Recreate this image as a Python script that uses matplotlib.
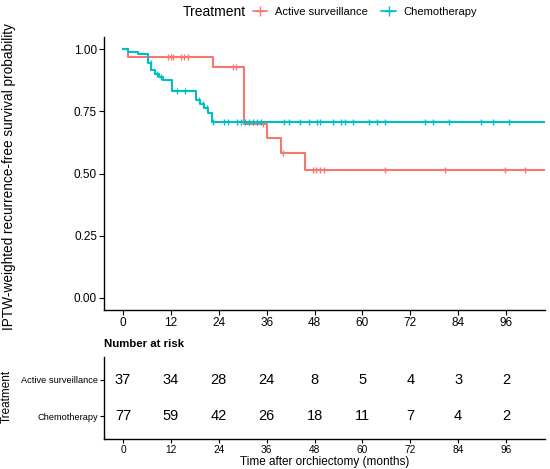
import matplotlib.pyplot as plt
from matplotlib.lines import Line2D
import numpy as np

plt.rcParams['font.family'] = ['Liberation Sans', 'DejaVu Sans']

RED = '#F8766D'
TEAL = '#00BFC4'

groups = ['Active surveillance', 'Chemotherapy']

# Step curves (time in months, survival after the step)
as_times = [0, 1.3, 22.5, 30.4, 36.2, 39.5, 45.5]
as_surv = [1.0, 0.970, 0.931, 0.698, 0.644, 0.581, 0.516]
as_censor = [11.2, 11.9, 12.6, 14.5, 15.3, 16.2, 27.5, 28.3, 35.2, 40.0,
             47.5, 48.4, 49.4, 50.4, 65.7, 80.7, 95.7, 100.8]

ch_times = [0, 1.3, 3.8, 6.2, 7.1, 7.9, 8.9, 10.1, 12.2, 18.3, 19.2, 20.2, 21.2, 22.3]
ch_surv = [1.0, 0.988, 0.981, 0.946, 0.919, 0.900, 0.890, 0.878, 0.832,
           0.798, 0.782, 0.765, 0.745, 0.708]
ch_censor = [7.0, 8.5, 9.5, 13.6, 15.4, 19.0, 20.0, 21.0, 22.5, 25.4, 26.4,
             28.5, 29.6, 30.6, 31.6, 32.6, 33.7, 34.6, 40.4, 41.5, 44.4, 46.5,
             48.5, 49.4, 52.6, 54.6, 55.6, 57.7, 61.7, 63.6, 65.6, 75.7, 77.8,
             81.8, 89.8, 92.8, 96.7]

t_end = 110
risk_times = [0, 12, 24, 36, 48, 60, 72, 84, 96]
risk_as = [37, 34, 28, 24, 8, 5, 4, 3, 2]
risk_ch = [77, 59, 42, 26, 18, 11, 7, 4, 2]

xlim = (-4.8, 105.8)

fig = plt.figure(figsize=(5.5, 4.69), dpi=100)
ax = fig.add_axes([0.189, 0.339, 0.802, 0.582])
axt = fig.add_axes([0.189, 0.064, 0.802, 0.175])


def surv_at(times, surv, t):
    i = np.searchsorted(times, t, side='right') - 1
    return np.array(surv)[i]


for times, surv, cens, col in [(as_times, as_surv, as_censor, RED),
                               (ch_times, ch_surv, ch_censor, TEAL)]:
    tt = list(times) + [t_end]
    ss = list(surv) + [surv[-1]]
    ax.step(tt, ss, where='post', color=col, lw=1.5, clip_on=True)
    ax.plot(cens, surv_at(times, surv, cens), ls='none', marker='|',
            color=col, ms=5, mew=1.0)

ax.set_xlim(*xlim)
ax.set_ylim(-0.05, 1.05)
ax.set_xticks(risk_times)
ax.set_yticks([0, 0.25, 0.5, 0.75, 1.0])
ax.set_yticklabels(['0.00', '0.25', '0.50', '0.75', '1.00'])
ax.set_ylabel('IPTW-weighted recurrence-free survival probability', fontsize=9.8)
ax.yaxis.set_label_coords(-0.200, 0.49)
for a in (ax, axt):
    a.spines['top'].set_visible(False)
    a.spines['right'].set_visible(False)
    a.spines['left'].set_linewidth(1.0)
    a.spines['bottom'].set_linewidth(1.0)
ax.tick_params(labelsize=8.5, length=3.5, width=0.8, colors='black', pad=1.5)

# Legend
fig.text(0.333, 0.975, 'Treatment', fontsize=10, va='center', ha='left')
handles = [Line2D([], [], color=RED, marker='+', ms=7, lw=1.2),
           Line2D([], [], color=TEAL, marker='+', ms=7, lw=1.2)]
fig.legend(handles, groups, loc='center left', bbox_to_anchor=(0.452, 0.975),
           ncol=2, frameon=False, fontsize=8, handlelength=1.3,
           handletextpad=0.7, columnspacing=1.2, borderaxespad=0)

# Number at risk table
for y, vals in [(2, risk_as), (1, risk_ch)]:
    for t, v in zip(risk_times, vals):
        axt.text(t, y, str(v), ha='center', va='center', fontsize=10.5)
axt.set_xlim(*xlim)
axt.set_ylim(0.364, 2.636)
axt.set_xticks(risk_times)
axt.set_yticks([2, 1])
axt.set_yticklabels(groups)
axt.tick_params(axis='y', labelsize=6.7, length=3, width=0.8, pad=1.5)
axt.tick_params(axis='x', labelsize=7.3, length=3, width=0.8, pad=1.5)
axt.set_ylabel('Treatment', fontsize=8.5)
axt.yaxis.set_label_coords(-0.206, 0.52)
axt.set_xlabel('Time after orchiectomy (months)', fontsize=8.5, labelpad=0.5)
axt.set_title('Number at risk', loc='left', fontsize=8.2, fontweight='bold', pad=7)

fig.savefig('out.png', dpi=100)
